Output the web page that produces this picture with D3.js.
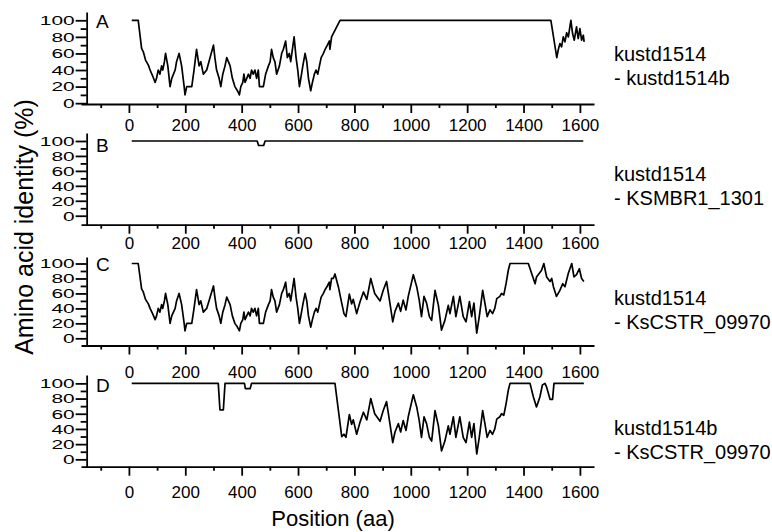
<!DOCTYPE html>
<html>
<head>
<meta charset="utf-8">
<script src="https://cdn.jsdelivr.net/npm/d3@7"></script>
<style>
  body { margin: 0; background: #fff; }
  svg { font-family: "Liberation Sans", Arial, sans-serif; }
</style>
</head>
<body>
<div id="chart"></div>
<script>
// Tick values
let xTicksMajor = [0, 200, 400, 600, 800, 1000, 1200, 1400, 1600];
let xTicksMinor = [-100, 100, 300, 500, 700, 900, 1100, 1300, 1500];
let yTicksMajor = [0, 20, 40, 60, 80, 100];
let yTicksMinor = [10, 30, 50, 70, 90];

// Panel names
let panelLetters = ["A", "B", "C", "D"];
let pairFirst = ["kustd1514", "kustd1514", "kustd1514", "kustd1514b"];
let pairSecond = ["- kustd1514b", "- KSMBR1_1301", "- KsCSTR_09970", "- KsCSTR_09970"];

// [position (aa), identity (%)]
// start region, same in A and C
let startRegion = [[10,100],[33,100],[45,66],[51,62],[59,52],[69,46],[75,40],[84,33],[93,25],[98,30],
  [104,40],[110,35],[116,45],[120,40],[126,50],[130,60],[138,45],[146,20],[152,30],[164,40],
  [169,50],[178,60],[187,45],[196,20],[199,10],[205,20],[223,20],[231,40],[240,65],[249,45],
  [255,50],[264,35],[276,40],[288,55],[300,70],[305,55],[311,40],[320,30],[326,20],[333,35],
  [341,45],[347,55],[359,45],[367,30],[376,20],[385,15],[392,10],[397,20],[404,25],[408,35],
  [412,25],[418,30],[424,35],[430,30],[435,40],[441,35],[447,40],[453,30],[459,40],[463,20],
  [477,20],[485,35],[495,45],[501,50],[506,65],[512,55],[518,50],[524,35],[534,45],[542,60],
  [548,65],[556,75],[562,55],[569,60],[574,50],[580,65],[586,80],[593,55],[599,40],[605,20],
  [610,30],[617,45],[625,60],[631,50],[637,30],[645,15],[651,25],[658,35],[664,40],[670,35],
  [676,45],[682,55],[690,60],[696,65],[704,70],[711,75],[713,65],[719,80]];

// middle region, same in C and D
let midRegion = [[763,33],[770,29],[782,59],[790,46],[796,52],[808,33],[820,49],[832,62],[844,52],
  [858,80],[872,60],[891,50],[902,64],[914,76],[926,47],[936,22],[944,36],[956,47],[964,36],
  [973,51],[983,38],[991,56],[1009,85],[1021,69],[1030,51],[1038,29],[1047,56],[1056,47],[1066,29],
  [1074,24],[1086,64],[1098,44],[1109,11],[1121,24],[1133,44],[1139,33],[1151,56],[1160,29],[1174,56],
  [1186,29],[1196,22],[1208,49],[1216,29],[1224,47],[1234,7],[1243,29],[1255,64],[1263,47],[1271,29],
  [1281,38],[1290,33],[1298,40],[1305,53],[1316,56],[1322,60],[1330,58],[1338,73],[1346,91]];

let tailA = [[749,100],[1497,100],[1518,55],[1523,64],[1529,72],[1535,68],[1541,80],[1547,74],
  [1553,85],[1559,80],[1568,100],[1574,84],[1580,76],[1588,92],[1594,78],[1600,90],[1606,76],
  [1612,82],[1615,74]];
let joinC = [[725,80],[731,86],[743,69],[755,47]];
let tailC = [[1352,100],[1417,100],[1441,73],[1446,82],[1464,91],[1472,100],[1482,82],[1494,76],
  [1500,80],[1506,69],[1517,56],[1529,64],[1539,73],[1547,69],[1559,87],[1571,100],[1579,82],
  [1588,85],[1598,93],[1606,80],[1614,76]];
let headD = [[10,100],[317,100],[323,65],[335,65],[341,100],[410,100],[413,93],[430,93],[435,100],
  [731,100],[755,30]];
let tailD = [[1352,100],[1423,100],[1435,82],[1446,69],[1458,82],[1467,98],[1476,100],[1482,95],
  [1494,79],[1503,79],[1508,100],[1614,100]];

let identityA = startRegion.concat(tailA);
let identityB = [[10,100],[455,100],[460,94],[478,94],[483,100],[1612,100]];
let identityC = startRegion.concat(joinC, midRegion, tailC);
let identityD = headD.concat(midRegion, tailD);
let allSeries = [identityA, identityB, identityC, identityD];

// panel layout (pixels)
let layout = [
  {top: 12,  bottom: 104,   yMin: -1,   yMax: 110,   letterY: 28,  nameY: 61,  tickY: 27},
  {top: 133, bottom: 224.7, yMin: -12,  yMax: 110.7, letterY: 152, nameY: 181, tickY: 24.5},
  {top: 257, bottom: 345.5, yMin: -9.6, yMax: 108.7, letterY: 271, nameY: 305, tickY: 32},
  {top: 375, bottom: 466.7, yMin: -9.7, yMax: 111,   letterY: 392, nameY: 435, tickY: 31}
];

let svgWidth = 772;
let svgHeight = 532;
let fmt = d3.format("d");
let yLabelStretch = 1.55;

let svg = d3.select("#chart")
  .append("svg")
  .attr("width", svgWidth)
  .attr("height", svgHeight);

let x = d3.scaleLinear()
  .domain([-170, 1650])
  .range([81, 594]);

let yAxisX = x(-150);

layout.forEach(function(p, i) {
  let y = d3.scaleLinear()
    .domain([p.yMin, p.yMax])
    .range([p.bottom, p.top]);

  let g = svg.append("g");

  // bottom axis, major + minor ticks
  let xAxisG = g.append("g")
    .attr("transform", `translate(0, ${p.bottom})`)
    .call(d3.axisBottom(x).tickValues(xTicksMajor).tickFormat(fmt).tickSize(9).tickSizeOuter(0));
  xAxisG.selectAll("text")
    .attr("y", p.tickY)
    .attr("dy", 0)
    .attr("font-size", 17)
    .attr("font-family", "Liberation Sans, Arial, sans-serif")
    .attr("fill", "#000");

  g.append("g")
    .attr("transform", `translate(0, ${p.bottom})`)
    .call(d3.axisBottom(x).tickValues(xTicksMinor).tickSize(4).tickFormat(""))
    .select(".domain").remove();

  // left axis (labels drawn wide, as in the original)
  let yAxisG = g.append("g")
    .attr("transform", `translate(${yAxisX}, 0)`)
    .call(d3.axisLeft(y).tickValues(yTicksMajor).tickFormat(fmt).tickSize(11).tickSizeOuter(0));
  yAxisG.selectAll("text")
    .attr("x", -12 / yLabelStretch)
    .attr("transform", `scale(${yLabelStretch},1)`)
    .attr("font-size", 13.5)
    .attr("font-family", "Liberation Sans, Arial, sans-serif")
    .attr("fill", "#000");

  g.append("g")
    .attr("transform", `translate(${yAxisX}, 0)`)
    .call(d3.axisLeft(y).tickValues(yTicksMinor).tickSize(6).tickFormat(""))
    .select(".domain").remove();

  g.selectAll(".domain, .tick line")
    .attr("stroke", "#000")
    .attr("stroke-width", 1.8);

  // identity line
  let line = d3.line()
    .x(d => x(d[0]))
    .y(d => y(d[1]));

  g.append("path")
    .datum(allSeries[i])
    .attr("fill", "none")
    .attr("stroke", "#000")
    .attr("stroke-width", 1.7)
    .attr("stroke-linejoin", "round")
    .attr("d", line);

  // panel letter
  g.append("text")
    .attr("x", 96)
    .attr("y", p.letterY)
    .attr("font-size", 19)
    .text(panelLetters[i]);

  // pair names on the right
  g.append("text")
    .attr("x", 614)
    .attr("y", p.nameY)
    .attr("font-size", 20)
    .text(pairFirst[i]);
  g.append("text")
    .attr("x", 614)
    .attr("y", p.nameY + 24)
    .attr("font-size", 20)
    .text(pairSecond[i]);
});

// axis titles
svg.append("text")
  .attr("x", 333)
  .attr("y", 526)
  .attr("text-anchor", "middle")
  .attr("font-size", 22)
  .text("Position (aa)");

svg.append("text")
  .attr("transform", "translate(33, 227) rotate(-90)")
  .attr("text-anchor", "middle")
  .attr("font-size", 25)
  .text("Amino acid identity (%)");
</script>
</body>
</html>
